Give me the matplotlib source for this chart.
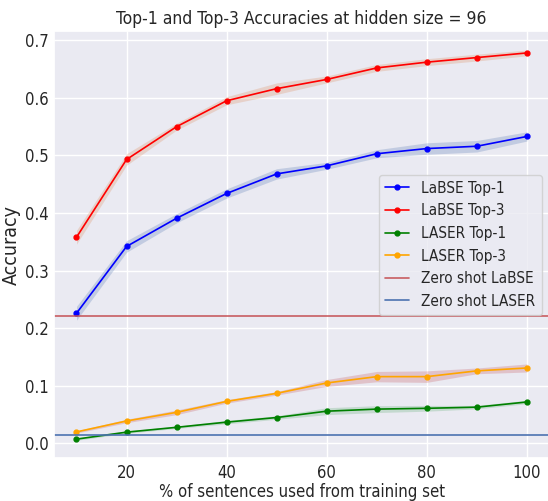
# Top-1 / Top-3 accuracy vs. fraction of training data (hidden size 96)

import numpy as np
from matplotlib import pyplot as plt
import seaborn as sns

# data
pct = [10, 20, 30, 40, 50, 60, 70, 80, 90, 100]

labse_top1 = [0.226, 0.342, 0.391, 0.434, 0.468, 0.482, 0.503, 0.512, 0.516, 0.533]
labse_top1_sd = [0.012, 0.010, 0.008, 0.008, 0.009, 0.006, 0.007, 0.010, 0.010, 0.008]

labse_top3 = [0.358, 0.493, 0.550, 0.595, 0.616, 0.632, 0.652, 0.662, 0.670, 0.678]
labse_top3_sd = [0.012, 0.010, 0.006, 0.007, 0.010, 0.006, 0.006, 0.006, 0.006, 0.005]

laser_top1 = [0.0075, 0.0196, 0.028, 0.037, 0.045, 0.056, 0.0596, 0.061, 0.063, 0.072]
laser_top1_sd = [0.002, 0.002, 0.002, 0.003, 0.003, 0.006, 0.006, 0.005, 0.003, 0.003]

laser_top3 = [0.020, 0.039, 0.054, 0.073, 0.087, 0.105, 0.116, 0.116, 0.126, 0.131]
laser_top3_sd = [0.002, 0.003, 0.004, 0.003, 0.003, 0.006, 0.009, 0.010, 0.005, 0.007]

zero_shot_labse = 0.221
zero_shot_laser = 0.015

series = [
    ('LaBSE Top-1', labse_top1, labse_top1_sd, 'blue', '#4C72B0'),
    ('LaBSE Top-3', labse_top3, labse_top3_sd, 'red', '#DD8452'),
    ('LASER Top-1', laser_top1, laser_top1_sd, 'green', '#55A868'),
    ('LASER Top-3', laser_top3, laser_top3_sd, 'orange', '#C44E52'),
]

sns.set_theme(style='darkgrid')
plt.rcParams['font.family'] = ['DejaVu Sans']
plt.rcParams['font.stretch'] = 'condensed'  # falls back to normal width if not installed

fig = plt.figure(figsize=(5.48, 5.01), dpi=100)
ax = fig.add_axes([0.0985, 0.085, 0.904, 0.853])

x = np.array(pct)
for name, m, sd, c, band in series:
    m = np.array(m)
    sd = np.array(sd)
    ax.plot(x, m, color=c, marker='o', markersize=3.5, linewidth=1.2, label=name)
    ax.fill_between(x, m - sd, m + sd, color=band, alpha=0.25, linewidth=0)

ax.axhline(zero_shot_labse, color='#C44E52', linewidth=1.2, alpha=0.9, label='Zero shot LaBSE')
ax.axhline(zero_shot_laser, color='#4C72B0', linewidth=1.2, label='Zero shot LASER')

ax.set_xlim(5.5, 104.5)
ax.set_ylim(-0.026, 0.716)
ax.set_xticks([20, 40, 60, 80, 100])
ax.set_yticks([0.0, 0.1, 0.2, 0.3, 0.4, 0.5, 0.6, 0.7])
ax.tick_params(labelsize=12, length=0, pad=4)

ax.set_title('Top-1 and Top-3 Accuracies at hidden size = 96', fontsize=12.5, pad=5)
ax.set_xlabel('% of sentences used from training set', fontsize=12, labelpad=1)
ax.set_ylabel('Accuracy', fontsize=14, labelpad=3)
ax.legend(loc='center right', fontsize=11, handlelength=1.6)

plt.savefig('out.png', dpi=100)
